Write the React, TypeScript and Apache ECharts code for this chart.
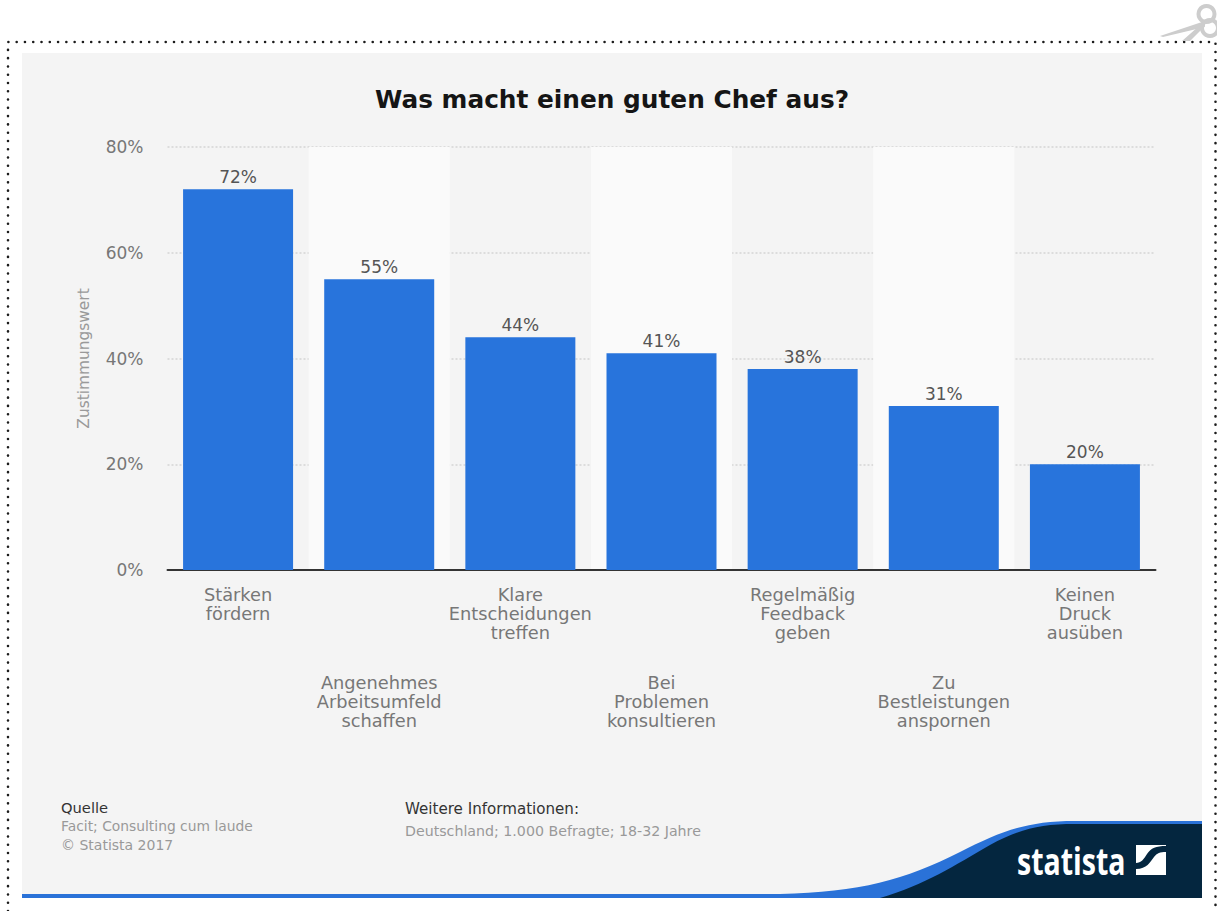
import React, { useEffect, useRef } from "react";
import * as echarts from "echarts";

const categories = [
  "Stärken\nfördern",
  "Angenehmes\nArbeitsumfeld\nschaffen",
  "Klare\nEntscheidungen\ntreffen",
  "Bei\nProblemen\nkonsultieren",
  "Regelmäßig\nFeedback\ngeben",
  "Zu\nBestleistungen\nanspornen",
  "Keinen\nDruck\nausüben",
];
const values = [72, 55, 44, 41, 38, 31, 20];
const yTicks = { min: 0, max: 80, interval: 20 };
const titleText = "Was macht einen guten Chef aus?";
const yAxisName = "Zustimmungswert";
const sourceLines = ["Facit; Consulting cum laude", "© Statista 2017"];
const infoText = "Deutschland; 1.000 Befragte; 18-32 Jahre";

const FONT = '"DejaVu Sans", sans-serif';
const BLUE = "#2874dc";
const NAVY = "#04263f";

// Footer swoosh shapes and the Statista mark, in page coordinates.
echarts.graphic.registerShape(
  "footerBlue",
  echarts.graphic.extendPath(
    "M22 894 L780 894 C860 892 905 880 960 852 C1000 832 1025 821 1075 821 L1202 821 L1202 898 L22 898 Z",
    {}
  )
);
echarts.graphic.registerShape(
  "footerNavy",
  echarts.graphic.extendPath(
    "M880 898 C925 885 955 865 990 845 C1020 829 1040 824 1075 824 L1202 824 L1202 898 Z",
    {}
  )
);
echarts.graphic.registerShape(
  "markSquare",
  echarts.graphic.extendPath("M1136 845 L1166 845 L1166 875 L1136 875 Z", {})
);
echarts.graphic.registerShape(
  "markCurve",
  echarts.graphic.extendPath(
    "M1136 869 C1147 869 1150 862 1154 857 C1157 853 1160 852 1166 852 L1166 846 C1156 846 1151 848 1147 854 C1144 859 1141 863 1136 863 Z",
    {}
  )
);

function buildGraphic() {
  const footerText = (text: string, x: number, y: number, fill: string, size: number) => ({
    type: "text",
    x,
    y,
    z: 3,
    style: { text, fill, font: `${size}px ${FONT}`, verticalAlign: "middle" },
  });
  return [
    // Panel behind the chart
    { type: "rect", z: -10, shape: { x: 22, y: 53, width: 1180, height: 842 }, style: { fill: "#f4f4f4" } },
    // Dotted cut-out frame
    {
      type: "polyline",
      z: -9,
      shape: { points: [[8, 911], [8, 42], [1215.5, 42], [1215.5, 911]] },
      style: { stroke: "#1c1c1c", lineWidth: 2.6, lineDash: [0, 8.28], lineCap: "round", fill: "none" },
    },
    // Scissors
    { type: "ring", z: -8, shape: { cx: 1206.5, cy: 14, r: 10, r0: 6 }, style: { fill: "#cdcdcd" } },
    { type: "ring", z: -8, shape: { cx: 1210, cy: 28, r: 10, r0: 6 }, style: { fill: "#cdcdcd" } },
    {
      type: "polygon",
      z: -8,
      shape: { points: [[1160, 36], [1202, 22], [1205, 27], [1163, 37]] },
      style: { fill: "#cdcdcd" },
    },
    {
      type: "polygon",
      z: -8,
      shape: { points: [[1182, 41], [1199, 26], [1204, 21], [1205, 26], [1190, 41]] },
      style: { fill: "#cdcdcd" },
    },
    // Footer
    { type: "footerBlue", z: 1, style: { fill: "#2a72d8" } },
    { type: "footerNavy", z: 2, style: { fill: NAVY } },
    {
      type: "text",
      x: 1017,
      y: 860,
      z: 3,
      scaleX: 0.75,
      style: {
        text: "statista",
        fill: "#ffffff",
        font: 'bold 38px "Open Sans", sans-serif',
        verticalAlign: "middle",
      },
    },
    { type: "markSquare", z: 3, style: { fill: "#ffffff" } },
    { type: "markCurve", z: 4, style: { fill: NAVY } },
    footerText("Quelle", 61, 807, "#333333", 14.7),
    footerText(sourceLines[0], 61, 826, "#999999", 13.85),
    footerText(sourceLines[1], 61, 845, "#999999", 14),
    footerText("Weitere Informationen:", 405, 809, "#333333", 15.1),
    footerText(infoText, 405, 831, "#999999", 14.2),
  ];
}

export default function App() {
  const ref = useRef<HTMLDivElement>(null);

  useEffect(() => {
    const chart = echarts.init(ref.current!, null, { renderer: "svg" });
    const sharedCategoryAxis = {
      type: "category",
      data: categories,
      axisTick: { show: false },
    };
    const labelStyle = {
      fontFamily: FONT,
      fontSize: 17.8,
      color: "#777777",
      lineHeight: 19,
      verticalAlign: "top",
    };
    chart.setOption({
      animation: false,
      backgroundColor: "#ffffff",
      title: {
        text: titleText,
        left: 375,
        top: 87,
        padding: 0,
        textStyle: { fontFamily: FONT, fontSize: 24.8, fontWeight: "bold", color: "#151515" },
      },
      grid: { left: 167.5, right: 61.5, top: 147, bottom: 341, containLabel: false },
      xAxis: [
        {
          ...sharedCategoryAxis,
          axisLine: { show: true, lineStyle: { color: "#333333", width: 2 } },
          axisLabel: {
            ...labelStyle,
            margin: 15,
            interval: (i: number) => i % 2 === 0,
          },
          splitArea: { show: true, interval: 0, areaStyle: { color: ["rgba(0,0,0,0)", "#fafafa"] } },
        },
        {
          ...sharedCategoryAxis,
          position: "bottom",
          offset: 87.5,
          axisLine: { show: false },
          axisLabel: {
            ...labelStyle,
            margin: 15,
            interval: (i: number) => i % 2 === 1,
          },
        },
      ],
      yAxis: {
        type: "value",
        ...yTicks,
        name: yAxisName,
        nameLocation: "middle",
        nameGap: 76,
        nameTextStyle: { fontFamily: FONT, fontSize: 15.4, color: "#999999" },
        axisLine: { show: false },
        axisTick: { show: false },
        axisLabel: {
          formatter: "{value}%",
          fontFamily: FONT,
          fontSize: 17,
          color: "#777777",
          margin: 24,
          padding: [0, 0, 2, 0],
        },
        splitLine: { lineStyle: { color: "#d4d4d4", type: [2, 2], width: 1.5 } },
      },
      series: [
        {
          type: "bar",
          data: values,
          barWidth: 110,
          itemStyle: { color: BLUE },
          label: {
            show: true,
            position: "top",
            distance: 4,
            formatter: "{c}%",
            fontFamily: FONT,
            fontSize: 17,
            color: "#555555",
          },
        },
      ],
      graphic: buildGraphic(),
    });
    return () => chart.dispose();
  }, []);

  return <div ref={ref} style={{ position: "fixed", left: 0, top: 0, width: 1217, height: 911 }} />;
}
